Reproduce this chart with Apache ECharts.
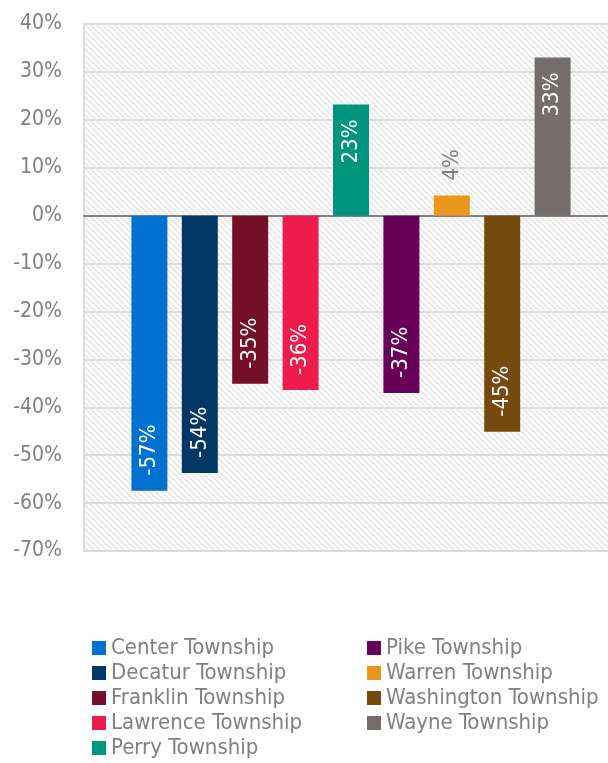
<!DOCTYPE html>
<html>
<head>
<meta charset="utf-8">
<script src="https://cdn.jsdelivr.net/npm/echarts@6/dist/echarts.min.js"></script>
<style>
  html, body { margin: 0; padding: 0; background: #fff; overflow: hidden; }
  /* plot area runs past the right edge of the window, as in the original */
  #chart { width: 618px; height: 763px; }
</style>
</head>
<body>
<div id="chart"></div>
<script>
// data
let townships = ['Center Township', 'Decatur Township', 'Franklin Township', 'Lawrence Township', 'Perry Township',
    'Pike Township', 'Warren Township', 'Washington Township', 'Wayne Township']
  , changes = [-57.4, -53.7, -35.1, -36.4, 23.2, -37.0, 4.2, -45.1, 33.0]
  , colors = ['#0071ce', '#003764', '#761028', '#ee1b4c', '#00957d', '#680059', '#eb961c', '#754a0e', '#736e6c']
  , yTicks = { min: -70, max: 40, step: 10 }

let font = '"Liberation Sans Narrow", "DejaVu Sans Condensed", sans-serif'
  , grey = '#808080'

// hatched background for the plot area
function hatch() {
  let c = document.createElement('canvas')
  c.width = 6; c.height = 6
  let ctx = c.getContext('2d')
  ctx.fillStyle = '#fff'
  ctx.fillRect(0, 0, 6, 6)
  ctx.strokeStyle = '#e3e3e3'
  ctx.lineWidth = 1.5
  ctx.beginPath()
  ctx.moveTo(-1, -1); ctx.lineTo(7, 7)
  ctx.moveTo(-1, 5); ctx.lineTo(1, 7)
  ctx.moveTo(5, -1); ctx.lineTo(7, 1)
  ctx.stroke()
  return c
}

function labelFor(v) {
  if (Math.abs(v) < 8) {
    return { position: 'top', align: 'left', color: grey, distance: 15 }
  }
  if (v > 0) return { position: 'insideTop', align: 'right', color: '#fff', distance: 15 }
  return { position: 'insideBottom', align: 'left', color: '#fff', distance: 15 }
}

let series = townships.map((name, i) => ({
  name: name,
  type: 'bar',
  barWidth: 36,
  barGap: '40%',
  itemStyle: { color: colors[i] },
  label: Object.assign({
    show: true,
    rotate: 90,
    verticalAlign: 'middle',
    fontFamily: font,
    fontSize: 22,
    formatter: p => Math.round(p.value) + '%'
  }, labelFor(changes[i])),
  data: [changes[i]]
}))

let legendBase = {
  orient: 'vertical',
  icon: 'rect',
  itemWidth: 14,
  itemHeight: 14,
  itemGap: 3,
  top: 637,
  height: 126,
  padding: 0,
  textStyle: { color: grey, fontFamily: font, fontSize: 22, lineHeight: 22 }
}

let chart = echarts.init(document.getElementById('chart'))
chart.setOption({
  animation: false,
  grid: {
    left: 84, right: 0, top: 24, bottom: 212,
    show: true,
    backgroundColor: { image: hatch(), repeat: 'repeat' },
    borderColor: '#dcdcdc',
    borderWidth: 2
  },
  legend: [
    Object.assign({ left: 92, data: townships.slice(0, 5) }, legendBase),
    Object.assign({ left: 367, data: townships.slice(5) }, legendBase)
  ],
  xAxis: {
    type: 'category',
    data: [''],
    axisTick: { show: false },
    axisLabel: { show: false },
    axisLine: { onZero: true, lineStyle: { color: grey, width: 2 } }
  },
  yAxis: {
    type: 'value',
    min: yTicks.min,
    max: yTicks.max,
    interval: yTicks.step,
    axisLine: { show: false },
    axisTick: { show: false },
    axisLabel: { color: grey, fontFamily: font, fontSize: 21, margin: 22, formatter: '{value}%' },
    splitLine: { lineStyle: { color: '#dcdcdc', width: 2 } }
  },
  series: series
})
</script>
</body>
</html>
